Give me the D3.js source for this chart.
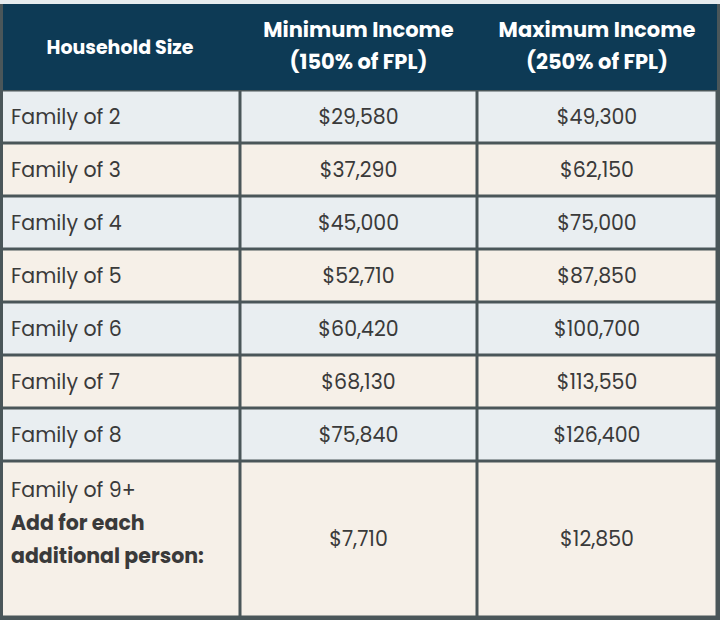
<!DOCTYPE html><html><head><meta charset="utf-8"><script src="https://cdn.jsdelivr.net/npm/d3@7"></script>
<style>body{margin:0;background:#e6ecef}</style></head><body><svg id="c" width="720" height="620"></svg>
<script>
const headers=[["Household Size"],["Minimum Income","(150% of FPL)"],["Maximum Income","(250% of FPL)"]];
const sizes=["Family of 2","Family of 3","Family of 4","Family of 5","Family of 6","Family of 7","Family of 8"];
const minIncome=["$29,580","$37,290","$45,000","$52,710","$60,420","$68,130","$75,840"];
const maxIncome=["$49,300","$62,150","$75,000","$87,850","$100,700","$113,550","$126,400"];
const lastRow={label:["Family of 9+","Add for each","additional person:"],min:"$7,710",max:"$12,850"};
const svg=d3.select("#c");
const F="Poppins, 'Open Sans', sans-serif";
const colX=[0,240,477,717];
const rowY=[90,143,196,249,302,355,408,461,617];
svg.append("rect").attr("x",0).attr("y",0).attr("width",720).attr("height",620).attr("fill","#4a5659");
svg.append("rect").attr("x",0).attr("y",0).attr("width",720).attr("height",4).attr("fill","#e6ecef");
svg.append("rect").attr("x",3).attr("y",4).attr("width",714).attr("height",86).attr("fill","#0d3a55");
const fills=["#e9eef1","#f6f0e8"];
for(let r=0;r<8;r++)for(let c=0;c<3;c++){
 svg.append("rect").attr("x",colX[c]+(c?1.5:3)).attr("y",rowY[r]+1.5).attr("width",colX[c+1]-colX[c]-(c?3:4.5)).attr("height",rowY[r+1]-rowY[r]-3).attr("fill",fills[r%2]);
}
const cx=c=>(colX[c]+colX[c+1])/2;
headers.forEach((h,c)=>{
 const x=c==0?120:cx(c);
 const t=svg.append("text").attr("text-anchor","middle").attr("fill","#fff").attr("font-family",F).attr("font-weight","bold").attr("font-size",c==0?19:21);
 h.forEach((s,i)=>t.append("tspan").attr("x",x).attr("y",h.length==1?54:37+i*32).text(s));
});
const txt=(x,y,s,a,w)=>svg.append("text").attr("x",x).attr("y",y).attr("text-anchor",a).attr("fill","#3a3a3a").attr("font-family",F).attr("font-size",20.5).attr("font-weight",w||"normal").text(s);
sizes.forEach((s,i)=>{const y=(rowY[i]+rowY[i+1])/2+7;txt(11,y,s,"start");txt(cx(1),y,minIncome[i],"middle");txt(cx(2),y,maxIncome[i],"middle");});
txt(11,497,lastRow.label[0],"start");txt(11,530,lastRow.label[1],"start","bold");txt(11,563,lastRow.label[2],"start","bold");
txt(cx(1),546,lastRow.min,"middle");txt(cx(2),546,lastRow.max,"middle");
</script></body></html>
